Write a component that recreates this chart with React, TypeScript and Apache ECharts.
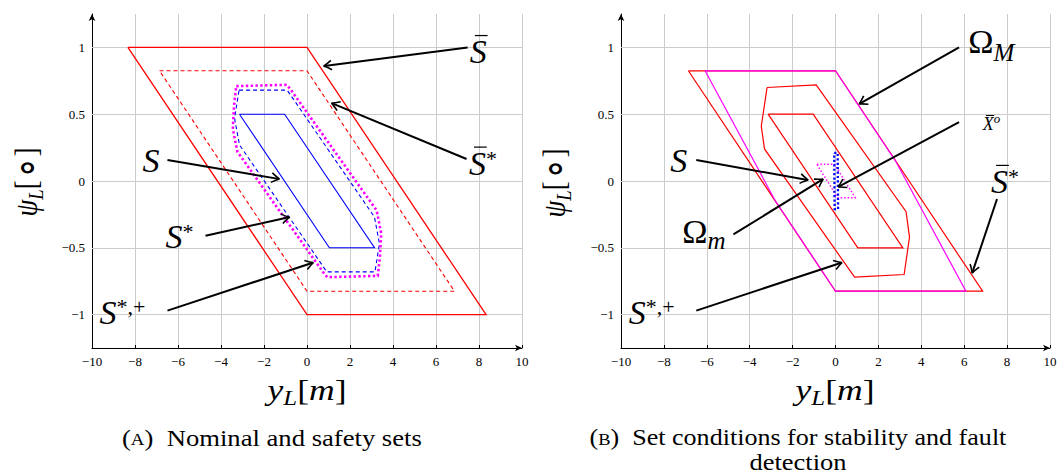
import React, { useEffect, useRef } from "react";
import * as echarts from "echarts";

type Pt = [number, number];

// ---------- axes ----------
const X_MIN = -10;
const X_MAX = 10;
const X_STEP = 2;
const Y_MIN = -1.25;
const Y_MAX = 1.25;
const Y_TICKS = [-1, -0.5, 0, 0.5, 1];

// ---------- panel (A): nominal and safety sets ----------
const A_SBAR: Pt[] = [[-8.33, 1], [0, 1], [8.33, -1], [0, -1], [-8.33, 1]];
const A_SBAR_STAR: Pt[] = [[-6.86, 0.825], [0, 0.825], [6.86, -0.825], [0, -0.825], [-6.86, 0.825]];
const A_S: Pt[] = [[-3.14, 0.5], [-1.04, 0.5], [3.14, -0.5], [1.04, -0.5], [-3.14, 0.5]];
const A_S_STAR: Pt[] = [
  [-3.16, 0.68], [-0.92, 0.68], [3.14, -0.27], [3.37, -0.47], [3.16, -0.68],
  [0.92, -0.68], [-3.14, 0.27], [-3.37, 0.47], [-3.16, 0.68],
];
const A_S_STAR_PLUS: Pt[] = [
  [-3.29, 0.71], [-0.94, 0.72], [-0.74, 0.68], [3.24, -0.22], [3.45, -0.39], [3.39, -0.57],
  [3.29, -0.71], [0.94, -0.72], [0.74, -0.68], [-3.24, 0.22], [-3.45, 0.39], [-3.39, 0.57], [-3.29, 0.71],
];

// ---------- panel (B): set conditions ----------
const B_SBAR_STAR: Pt[] = [[-6.86, 0.825], [0, 0.825], [6.86, -0.825], [0, -0.825], [-6.86, 0.825]];
const B_OMEGA_M: Pt[] = [[-6.08, 0.825], [0, 0.825], [2.8, 0.15], [6.08, -0.825], [0, -0.825], [-2.8, -0.15], [-6.08, 0.825]];
const B_S_STAR_PLUS: Pt[] = [
  [-3.19, 0.7], [-0.9, 0.72], [3.29, -0.23], [3.45, -0.42], [3.2, -0.7],
  [0.89, -0.72], [-3.31, 0.24], [-3.46, 0.41], [-3.19, 0.7],
];
const B_S: Pt[] = [[-3.14, 0.5], [-1.04, 0.5], [3.14, -0.5], [1.04, -0.5], [-3.14, 0.5]];
const B_OMEGA_m: Pt[] = [[-0.87, 0.125], [-0.05, 0.125], [0.92, -0.125], [0.1, -0.125], [-0.87, 0.125]];
const B_XBAR_O: Pt[] = [[-0.06, 0.21], [0.1, 0.21], [0.12, -0.21], [-0.04, -0.21], [-0.06, 0.21]];

// ---------- annotations (data coordinates) ----------
const A_ARROWS: [Pt, Pt][] = [
  [[7.47, 1.0], [0.77, 0.86]],
  [[7.42, 0.165], [1.14, 0.583]],
  [[-6.49, 0.157], [-1.28, 0.015]],
  [[-4.72, -0.41], [-0.81, -0.27]],
  [[-6.49, -0.97], [0.3, -0.61]],
];
const B_ARROWS: [Pt, Pt][] = [
  [[5.76, 1.0], [1.1, 0.576]],
  [[5.76, 0.44], [0.12, -0.045]],
  [[-6.49, 0.157], [-1.27, 0.007]],
  [[-4.76, -0.4], [-0.57, 0.015]],
  [[7.53, -0.135], [6.37, -0.69]],
  [[-6.49, -0.97], [0.31, -0.61]],
];

type Part = { t: string; s: number; it?: boolean; dy?: number; bar?: boolean; gap?: number };
const BIG = 34;
const SUP = 22;
const L_SBAR: Part[] = [{ t: "S", s: BIG, it: true, bar: true }];
const L_SBAR_STAR: Part[] = [{ t: "S", s: BIG, it: true, bar: true }, { t: "*", s: SUP, dy: -9 }];
const L_S: Part[] = [{ t: "S", s: BIG, it: true }];
const L_S_STAR: Part[] = [{ t: "S", s: BIG, it: true }, { t: "*", s: SUP, dy: -9 }];
const L_S_STAR_PLUS: Part[] = [{ t: "S", s: BIG, it: true }, { t: "*,+", s: SUP, dy: -10 }];
const L_OMEGA_M: Part[] = [{ t: "Ω", s: BIG }, { t: "M", s: 25, it: true, dy: 8 }];
const L_OMEGA_m: Part[] = [{ t: "Ω", s: BIG }, { t: "m", s: 25, it: true, dy: 6 }];
const L_XBAR_O: Part[] = [{ t: "X", s: 18, it: true, bar: true }, { t: "o", s: 13, it: true, dy: -7 }];

const A_LABELS: { parts: Part[]; at: Pt }[] = [
  { parts: L_SBAR, at: [7.57, 0.88] },
  { parts: L_SBAR_STAR, at: [7.53, 0.045] },
  { parts: L_S, at: [-7.65, 0.067] },
  { parts: L_S_STAR, at: [-6.58, -0.5] },
  { parts: L_S_STAR_PLUS, at: [-9.65, -1.07] },
];
const B_LABELS: { parts: Part[]; at: Pt }[] = [
  { parts: L_OMEGA_M, at: [6.19, 0.955] },
  { parts: L_XBAR_O, at: [6.86, 0.38] },
  { parts: L_S, at: [-7.7, 0.07] },
  { parts: L_OMEGA_m, at: [-7.15, -0.466] },
  { parts: L_SBAR_STAR, at: [7.25, -0.092] },
  { parts: L_S_STAR_PLUS, at: [-9.64, -1.07] },
];

const X_NAME: Part[] = [
  { t: "y", s: 30, it: true }, { t: "L", s: 21, it: true, dy: 5 }, { t: "[", s: 30 }, { t: "m", s: 30, it: true }, { t: "]", s: 30 },
];
const Y_NAME: Part[] = [
  { t: "ψ", s: 32, it: true }, { t: "L", s: 22, it: true, dy: 6 }, { t: "[", s: 32, gap: 1 }, { t: "∘", s: 42, dy: 4, gap: 1 }, { t: "]", s: 32 },
];
const CAP_A: Part[] = [{ t: "(", s: 24 }, { t: "A", s: 17 }, { t: ")  Nominal and safety sets", s: 24 }];
const CAP_B1: Part[] = [{ t: "(", s: 24 }, { t: "B", s: 17 }, { t: ")  Set conditions for stability and fault", s: 24 }];
const CAP_B2: Part[] = [{ t: "detection", s: 24 }];

const FONT = "Liberation Serif";
const RED = "#ff0000";
const BLUE = "#0000ff";
const MAGENTA = "#ff00ff";
const GRID = "#cccccc";

let mctx: CanvasRenderingContext2D | null = null;
function metrics(text: string, size: number, italic: boolean) {
  if (!mctx) mctx = document.createElement("canvas").getContext("2d");
  const c = mctx as CanvasRenderingContext2D;
  c.font = `${italic ? "italic " : ""}${size}px "${FONT}"`;
  const m: any = c.measureText(text);
  const asc = m.fontBoundingBoxAscent ?? size * 0.891;
  const desc = m.fontBoundingBoxDescent ?? size * 0.216;
  return { w: m.width as number, asc, desc };
}

function mathText(parts: Part[], x: number, baseline: number, align: "left" | "center", targetW?: number) {
  const ms = parts.map((p) => metrics(p.t, p.s, !!p.it));
  const natural = ms.reduce((a, m, i) => a + m.w + (parts[i].gap || 0), 0);
  const sx = targetW ? targetW / natural : 1;
  const total = natural * sx;
  let cx = align === "center" ? x - total / 2 : x;
  const els: any[] = [];
  parts.forEach((p, i) => {
    const m = ms[i];
    const base = baseline + (p.dy || 0);
    els.push({
      type: "text",
      z: 100,
      silent: true,
      x: cx,
      y: base - (m.asc - m.desc) / 2,
      scaleX: sx,
      style: {
        text: p.t,
        fontSize: p.s,
        fontFamily: FONT,
        fontStyle: p.it ? "italic" : "normal",
        fill: "#000",
        align: "left",
        verticalAlign: "middle",
      },
    });
    const w = m.w * sx;
    if (p.bar) {
      const yb = base - p.s * 0.82;
      els.push({
        type: "line",
        z: 100,
        silent: true,
        shape: { x1: cx + w * 0.3, y1: yb, x2: cx + w * 1.05, y2: yb },
        style: { stroke: "#000", lineWidth: Math.max(1, p.s / 28) },
      });
    }
    cx += w + (p.gap || 0) * sx;
  });
  return els;
}

function arrow(p1: number[], p2: number[]) {
  const dx = p2[0] - p1[0];
  const dy = p2[1] - p1[1];
  const L = Math.hypot(dx, dy);
  const ux = dx / L;
  const uy = dy / L;
  const nx = -uy;
  const ny = ux;
  const hl = 8;
  const hw = 4.8;
  const b1 = [p2[0] - ux * hl + nx * hw, p2[1] - uy * hl + ny * hw];
  const b2 = [p2[0] - ux * hl - nx * hw, p2[1] - uy * hl - ny * hw];
  const c1 = [p2[0] - ux * hl * 0.35 + nx * hw * 0.25, p2[1] - uy * hl * 0.35 + ny * hw * 0.25];
  const c2 = [p2[0] - ux * hl * 0.35 - nx * hw * 0.25, p2[1] - uy * hl * 0.35 - ny * hw * 0.25];
  return [
    {
      type: "line",
      z: 100,
      silent: true,
      shape: { x1: p1[0], y1: p1[1], x2: p2[0] - ux * 0.8, y2: p2[1] - uy * 0.8 },
      style: { stroke: "#000", lineWidth: 2 },
    },
    {
      type: "bezierCurve",
      z: 100,
      silent: true,
      shape: { x1: b1[0], y1: b1[1], cpx1: c1[0], cpy1: c1[1], x2: p2[0], y2: p2[1] },
      style: { stroke: "#000", lineWidth: 1.6, fill: null },
    },
    {
      type: "bezierCurve",
      z: 100,
      silent: true,
      shape: { x1: b2[0], y1: b2[1], cpx1: c2[0], cpy1: c2[1], x2: p2[0], y2: p2[1] },
      style: { stroke: "#000", lineWidth: 1.6, fill: null },
    },
  ];
}

const fmt = (v: number) => String(v).replace("-", "\u2212");

function axesFor(g: number) {
  const x = {
    type: "value",
    gridIndex: g,
    min: X_MIN,
    max: X_MAX,
    interval: X_STEP,
    axisLine: { show: true, onZero: false, symbol: ["none", "arrow"], symbolSize: [5, 7], lineStyle: { color: "#000", width: 1 } },
    axisTick: { show: true, inside: true, length: 3, lineStyle: { color: "#000" } },
    axisLabel: { show: true, formatter: fmt, fontFamily: FONT, fontSize: 13, color: "#000", margin: 7, showMinLabel: true, showMaxLabel: true, hideOverlap: false },
    splitLine: { show: true, lineStyle: { color: GRID, width: 1 } },
  };
  const y = {
    type: "value",
    gridIndex: g,
    min: Y_MIN,
    max: Y_MAX,
    axisLine: { show: true, onZero: false, symbol: ["none", "arrow"], symbolSize: [5, 7], lineStyle: { color: "#000", width: 1 } },
    axisTick: { show: true, inside: true, length: 3, customValues: Y_TICKS, lineStyle: { color: "#000" } },
    axisLabel: {
      show: true,
      customValues: Y_TICKS,
      formatter: (v: number) => (Math.abs(v) > 1.1 ? "" : fmt(v)),
      fontFamily: FONT,
      fontSize: 13,
      color: "#000",
      margin: 7,
      hideOverlap: false,
    },
    splitLine: { show: false },
  };
  return { x, y };
}

function poly(data: Pt[], g: number, color: string, width: number, type: any, z = 3) {
  return {
    type: "line",
    xAxisIndex: g,
    yAxisIndex: g,
    data,
    symbol: "none",
    showSymbol: false,
    silent: true,
    clip: false,
    z,
    lineStyle: { color, width, type, cap: "butt", join: "miter" },
  };
}

function gridLines(g: number) {
  return {
    type: "line",
    xAxisIndex: g,
    yAxisIndex: g,
    data: [[X_MIN, Y_MIN]],
    symbol: "none",
    showSymbol: false,
    silent: true,
    z: 1,
    lineStyle: { width: 0 },
    markLine: {
      silent: true,
      z: 1,
      symbol: ["none", "none"],
      label: { show: false },
      lineStyle: { color: GRID, width: 1, type: "solid" },
      emphasis: { disabled: true },
      data: Y_TICKS.map((v) => ({ yAxis: v })),
    },
  };
}

export default function App() {
  const ref = useRef<HTMLDivElement>(null);
  useEffect(() => {
    if (!ref.current) return;
    const chart = echarts.init(ref.current, undefined, { renderer: "svg" });
    const a = axesFor(0);
    const b = axesFor(1);
    chart.setOption({
      animation: false,
      textStyle: { fontFamily: FONT },
      grid: [
        { left: 92, top: 14, width: 430, height: 334, containLabel: false, outerBoundsMode: "none" },
        { left: 621, top: 14, width: 429, height: 334, containLabel: false, outerBoundsMode: "none" },
      ],
      xAxis: [a.x, b.x],
      yAxis: [a.y, b.y],
      series: [
        gridLines(0),
        gridLines(1),
        poly(A_SBAR, 0, RED, 1.3, "solid"),
        poly(A_SBAR_STAR, 0, RED, 1.1, [4, 3]),
        poly(A_S, 0, BLUE, 1.1, "solid"),
        poly(A_S_STAR, 0, BLUE, 1.1, [4, 3]),
        poly(A_S_STAR_PLUS, 0, MAGENTA, 2.6, [2.4, 2.4], 4),
        poly(B_SBAR_STAR, 1, RED, 1.2, "solid"),
        poly(B_OMEGA_M, 1, MAGENTA, 1.2, "solid", 4),
        poly(B_S_STAR_PLUS, 1, RED, 1.2, "solid"),
        poly(B_S, 1, RED, 1.2, "solid"),
        poly(B_OMEGA_m, 1, MAGENTA, 1.4, [1.5, 2], 4),
        poly(B_XBAR_O, 1, BLUE, 2.3, [2.2, 2.2], 5),
      ],
    });

    const els: any[] = [];
    const toPx = (g: number, p: Pt) => chart.convertToPixel({ gridIndex: g } as any, p) as number[];
    A_ARROWS.forEach(([p1, p2]) => els.push(...arrow(toPx(0, p1), toPx(0, p2))));
    B_ARROWS.forEach(([p1, p2]) => els.push(...arrow(toPx(1, p1), toPx(1, p2))));
    A_LABELS.forEach((l) => {
      const p = toPx(0, l.at);
      els.push(...mathText(l.parts, p[0], p[1], "left"));
    });
    B_LABELS.forEach((l) => {
      const p = toPx(1, l.at);
      els.push(...mathText(l.parts, p[0], p[1], "left"));
    });
    // axis names
    els.push(...mathText(X_NAME, 307, 400, "center", 79));
    els.push(...mathText(X_NAME, 835, 400, "center", 79));
    els.push({ type: "group", x: 37, y: 182, rotation: Math.PI / 2, children: mathText(Y_NAME, 0, 0, "center", 69) });
    els.push({ type: "group", x: 565, y: 183, rotation: Math.PI / 2, children: mathText(Y_NAME, 0, 0, "center", 69) });
    // captions
    els.push(...mathText(CAP_A, 272, 445, "center", 300));
    els.push(...mathText(CAP_B1, 798, 445, "center", 417));
    els.push(...mathText(CAP_B2, 798, 469, "center", 97));

    chart.setOption({ graphic: { elements: els } });
    return () => chart.dispose();
  }, []);
  return (
    <div
      ref={ref}
      style={{ position: "absolute", left: 0, top: 0, width: 1058, height: 476, background: "#fff" }}
    />
  );
}
